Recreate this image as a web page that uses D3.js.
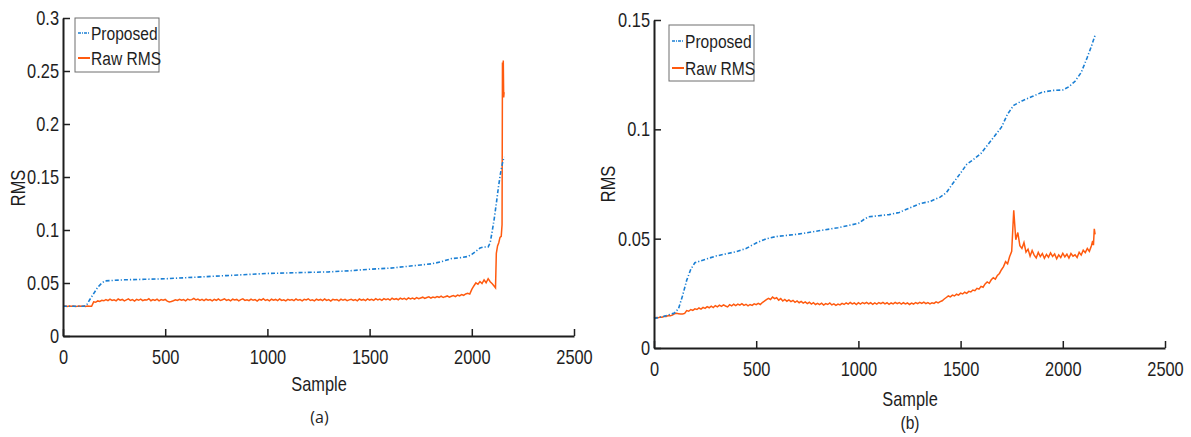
<!DOCTYPE html>
<html><head><meta charset="utf-8">
<script src="https://cdn.jsdelivr.net/npm/d3@7"></script>
<style>
body{margin:0;background:#fff;}
svg text{font-family:"Liberation Sans",Arial,sans-serif;fill:#1e1e1e;}
</style></head>
<body><svg id="c" width="1191" height="437"></svg>
<script>
// ---------- data ----------
const xTicks = [0, 500, 1000, 1500, 2000, 2500];
const yTicksA = [0, 0.05, 0.1, 0.15, 0.2, 0.25, 0.3];
const yTicksB = [0, 0.05, 0.1, 0.15];
const seriesNames = ["Proposed", "Raw RMS"];

// (a) Proposed
const propA_x = [0,50,100,115,130,150,170,190,205,250,300,400,500,600,700,800,900,1000,1100,1200,1300,1400,1500,1600,1700,1750,1800,1850,1900,1950,1980,2000,2020,2040,2060,2080,2090,2100,2110,2120,2130,2140,2150,2158];
const propA_v = [0.028,0.028,0.028,0.029,0.034,0.040,0.046,0.050,0.052,0.0525,0.053,0.0535,0.054,0.055,0.056,0.057,0.058,0.059,0.0595,0.060,0.0605,0.0615,0.063,0.064,0.066,0.067,0.068,0.070,0.073,0.074,0.075,0.077,0.080,0.083,0.084,0.084,0.088,0.099,0.111,0.125,0.140,0.153,0.163,0.169];

// (a) Raw RMS, one value every 10 samples from 0 to 2100, then the tail
const rawStep = 10;
const rawA_v = [
 .0281,.0283,.0279,.0282,.0280,.0283,.0279,.0281,.0284,.0280,.0282,.0279,.0283,.0281,.0280,
 .0322,.0318,.0331,.0326,.0337,.0332,
 .0344,.0333,.0347,.0336,.0342,.0331,.0349,.0338,.0345,.0332,.0341,.0350,.0335,.0343,.0330,.0346,.0337,.0348,.0334,.0342,.0339,.0351,.0333,.0344,.0336,.0347,.0331,.0343,.0338,.0345,
 .0329,.0322,.0326,.0333,.0341,.0335,.0346,.0337,.0344,.0332,.0348,.0339,.0343,.0355,.0341,.0349,.0336,.0345,.0333,.0347,.0338,.0344,.0331,.0346,.0337,.0349,.0335,.0342,.0350,.0336,
 .0344,.0332,.0347,.0339,.0345,.0331,.0343,.0350,.0336,.0342,.0333,.0348,.0337,.0344,.0330,.0346,.0339,.0351,.0335,.0343,.0332,.0347,.0338,.0345,.0334,.0349,.0336,.0342,.0331,.0346,
 .0338,.0344,.0333,.0349,.0337,.0343,.0332,.0346,.0340,.0351,.0335,.0342,.0331,.0347,.0338,.0345,.0333,.0349,.0336,.0343,.0330,.0346,.0339,.0344,.0332,.0348,.0337,.0345,.0334,.0341,
 .0347,.0335,.0343,.0332,.0349,.0338,.0345,.0334,.0350,.0339,.0346,.0336,.0352,.0341,.0348,.0337,.0353,.0343,.0350,.0339,.0356,.0345,.0352,.0342,.0358,.0347,.0355,.0344,.0360,.0350,
 .0357,.0348,.0362,.0352,.0359,.0366,.0354,.0363,.0370,.0358,.0367,.0361,.0372,.0365,.0376,.0363,.0371,.0378,.0367,.0375,.0382,.0372,.0386,.0379,.0391,.0384,.0397,.0402,.0395,.0440,
 .0472,.0501,.0488,.0514,.0495,.0530,.0502,.0541,.0512,.0493];
const rawA_tail_x = [2110,2116,2120,2126,2132,2138,2144,2148,2150,2152,2154,2156,2158];
const rawA_tail_v = [.0470,.0455,.0780,.0850,.0880,.0930,.0940,.1050,.2580,.2400,.2600,.2250,.2300];

// (b) Proposed
const propB_x = [0,50,100,120,140,160,180,200,250,300,350,400,450,500,550,600,700,800,900,1000,1030,1050,1100,1150,1200,1250,1300,1350,1400,1430,1460,1500,1530,1560,1600,1650,1700,1730,1760,1800,1850,1900,1950,2000,2030,2060,2090,2120,2140,2158];
const propB_v = [0.0135,0.0145,0.016,0.018,0.024,0.031,0.036,0.039,0.0405,0.042,0.043,0.044,0.0455,0.048,0.050,0.051,0.052,0.0535,0.055,0.057,0.059,0.060,0.0605,0.061,0.062,0.064,0.066,0.067,0.069,0.071,0.075,0.080,0.084,0.086,0.089,0.095,0.101,0.107,0.111,0.113,0.115,0.117,0.1178,0.118,0.1195,0.122,0.126,0.133,0.138,0.143];

// (b) Raw RMS, one value every 10 samples from 0 to 2140, then the tail
const rawB_v = [
 .0136,.0139,.0138,.0142,.0141,.0145,.0144,.0148,.0147,.0151,.0156,.0159,.0157,.0155,.0156,
 .0158,.0171,.0168,.0176,.0172,.0179,
 .0176,.0183,.0178,.0186,.0181,.0189,.0184,.0191,.0185,.0194,.0188,.0196,.0190,.0197,.0192,.0188,.0198,.0193,.0200,.0194,.0201,.0196,.0203,.0195,.0200,.0193,.0199,.0195,.0202,.0198,
 .0204,.0199,.0208,.0214,.0221,.0227,.0222,.0233,.0226,.0230,.0219,.0226,.0215,.0222,.0214,.0220,.0212,.0218,.0209,.0215,.0207,.0213,.0205,.0211,.0203,.0209,.0201,.0207,.0199,.0204,
 .0198,.0205,.0196,.0203,.0199,.0206,.0197,.0202,.0195,.0201,.0197,.0204,.0199,.0206,.0201,.0208,.0202,.0206,.0199,.0207,.0201,.0208,.0203,.0209,.0202,.0207,.0200,.0206,.0201,.0208,
 .0203,.0209,.0202,.0207,.0200,.0206,.0202,.0209,.0203,.0208,.0201,.0207,.0202,.0206,.0199,.0205,.0201,.0208,.0203,.0209,.0204,.0210,.0203,.0208,.0202,.0207,.0204,.0211,.0206,.0212,
 .0216,.0224,.0231,.0238,.0234,.0242,.0238,.0246,.0242,.0251,.0247,.0255,.0250,.0259,.0256,.0265,.0262,.0273,.0269,.0282,.0278,.0293,.0302,.0296,.0312,.0321,.0315,.0332,.0341,.0358,
 .0372,.0395,.0385,.0418,.0442,.0630,.0495,.0528,.0468,.0455,.0482,.0438,.0452,.0420,.0446,.0425,.0412,.0437,.0418,.0432,.0410,.0428,.0415,.0435,.0419,.0430,.0408,.0426,.0414,.0433,
 .0417,.0429,.0411,.0432,.0420,.0426,.0414,.0438,.0425,.0447,.0436,.0455,.0442,.0468];
const rawB_tail_x = [2146,2150,2154,2158];
const rawB_tail_v = [.0490,.0470,.0545,.0520];

// ---------- drawing ----------
const svg = d3.select("#c");
svg.append("rect").attr("width",1191).attr("height",437).attr("fill","#fff");
const BLUE = "#1a7fd4", ORANGE = "#ff5a0f", AXIS = "#1e1e1e";
const SQ = 0.82; // horizontal squeeze to imitate the narrow font

function toPts(xs, vs){ return xs.map((x,i)=>[x, vs[i]]); }
function stepPts(vs, step){ return vs.map((v,i)=>[i*step, v]); }
function squeeze(sel){
  sel.each(function(){
    const t = d3.select(this);
    const x = +(t.attr("x") || 0);
    const tr = t.attr("transform") || "";
    t.attr("x", x / SQ).attr("transform", (tr ? tr + " " : "") + `scale(${SQ},1)`);
  });
}

function panel(cfg){
  const x = d3.scaleLinear().domain([0,2500]).range([cfg.left, cfg.right]);
  const y = d3.scaleLinear().domain([0, cfg.ymax]).range([cfg.bottom, cfg.top]);
  const g = svg.append("g");

  const line = d3.line().x(d=>x(d[0])).y(d=>y(d[1]));
  g.append("path").datum(cfg.raw).attr("d", line)
    .attr("fill","none").attr("stroke",ORANGE).attr("stroke-width",1.5).attr("stroke-linejoin","miter");
  g.append("path").datum(cfg.prop).attr("d", line)
    .attr("fill","none").attr("stroke",BLUE).attr("stroke-width",1.6)
    .attr("stroke-dasharray","4,2,1.2,2");

  const xa = g.append("g").attr("transform",`translate(0,${cfg.bottom})`)
    .call(d3.axisBottom(x).tickValues(xTicks).tickFormat(d=>String(d)).tickSizeInner(-7).tickSizeOuter(0).tickPadding(14));
  const ya = g.append("g").attr("transform",`translate(${cfg.left},0)`)
    .call(d3.axisLeft(y).tickValues(cfg.yticks).tickFormat(d=>String(d)).tickSizeInner(-7).tickSizeOuter(0).tickPadding(4));
  [xa,ya].forEach(a=>{
    a.attr("font-family",null);
    a.select(".domain").attr("stroke",AXIS).attr("stroke-width",2);
    a.selectAll(".tick line").attr("stroke",AXIS).attr("stroke-width",1.5);
    a.selectAll("text").attr("font-size",20).attr("fill",AXIS).call(squeeze);
  });

  g.append("text").attr("x",cfg.xlab[0]).attr("y",cfg.xlab[1]).attr("text-anchor","middle")
    .attr("font-size",20).text("Sample").call(squeeze);
  g.append("text").attr("transform",`translate(${cfg.ylab[0]},${cfg.ylab[1]}) rotate(-90)`)
    .attr("text-anchor","middle").attr("font-size",20).text("RMS").call(squeeze);
  const cap = g.append("text").attr("x",cfg.cap[0]).attr("y",cfg.cap[1]).attr("text-anchor","middle")
    .attr("font-size",cfg.capSize).style("font-family",cfg.capFont).text(cfg.capText);
  if (cfg.capSqueeze) cap.call(squeeze);

  // legend
  const L = cfg.leg;
  g.append("rect").attr("x",L.x).attr("y",L.y).attr("width",L.w).attr("height",L.h)
    .attr("fill","#fff").attr("stroke","#6e6e6e").attr("stroke-width",1);
  const cols = [BLUE, ORANGE];
  seriesNames.forEach((name,i)=>{
    const ly = L.y + L.r0 + i*L.dr;
    g.append("line").attr("x1",L.x+3).attr("x2",L.x+15).attr("y1",ly).attr("y2",ly)
      .attr("stroke",cols[i]).attr("stroke-width",i?2:1.5).attr("stroke-dasharray", i?null:"3,1,1,1");
    g.append("text").attr("x",L.x+16).attr("y",ly+7).attr("font-size",L.fs).text(name).call(squeeze);
  });
}

panel({left:63,right:574,top:18,bottom:336,ymax:0.3,yticks:yTicksA,
  prop:toPts(propA_x,propA_v),
  raw:stepPts(rawA_v,rawStep).concat(toPts(rawA_tail_x,rawA_tail_v)),
  xlab:[319,391], ylab:[25,188], cap:[319.5,423], capText:"(a)", capSize:16,
  capFont:'"Open Sans","DejaVu Sans",sans-serif', capSqueeze:false,
  leg:{x:75,y:18,w:84,h:54,r0:15,dr:25,fs:19}});

panel({left:654,right:1165,top:20,bottom:348,ymax:0.15,yticks:yTicksB,
  prop:toPts(propB_x,propB_v),
  raw:stepPts(rawB_v,rawStep).concat(toPts(rawB_tail_x,rawB_tail_v)),
  xlab:[910,406], ylab:[615,184], cap:[910,429], capText:"(b)", capSize:19,
  capFont:'"Liberation Sans",Arial,sans-serif', capSqueeze:true,
  leg:{x:669,y:25,w:85,h:56,r0:16,dr:27,fs:19}});
</script></body></html>
